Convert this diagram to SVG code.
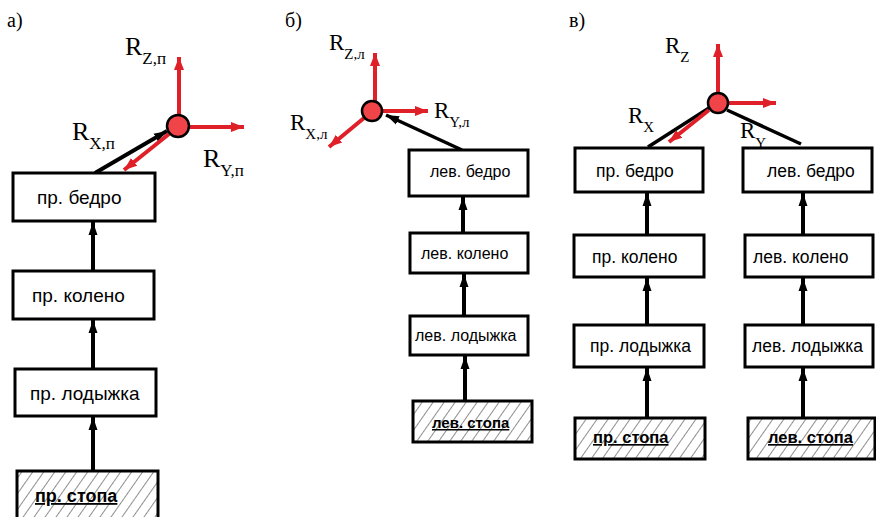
<svg xmlns="http://www.w3.org/2000/svg" width="876" height="517" viewBox="0 0 876 517">
<style>
.box{fill:#fff;stroke:#000;stroke-width:3}
.foot{fill:url(#hatch);stroke:#000;stroke-width:3}
.t{font-family:"Liberation Sans",Arial,sans-serif;fill:#000}
.tb{font-family:"Liberation Sans",Arial,sans-serif;font-weight:bold;text-decoration:underline;fill:#000}
.lab{font-family:"Liberation Serif","Times New Roman",serif;fill:#000}
.conn{stroke:#000;stroke-width:4;fill:none}
.thin{stroke:#000;stroke-width:3.5;fill:none}
.force{stroke:#e02028;stroke-width:4;fill:none}
.joint{fill:#f04448;stroke:#000;stroke-width:2.5}
</style>
<defs>
<pattern id="hatch" width="9" height="9" patternUnits="userSpaceOnUse" patternTransform="rotate(35)">
<rect width="9" height="9" fill="#fff"/>
<line x1="0" y1="0" x2="0" y2="9" stroke="#444" stroke-width="1.2"/>
</pattern>
<marker id="ah" markerUnits="userSpaceOnUse" markerWidth="14" markerHeight="12" refX="13" refY="6" orient="auto">
<path d="M0,1.5 L13,6 L0,10.5 z" fill="#000"/>
</marker>
<marker id="rh" markerUnits="userSpaceOnUse" markerWidth="14" markerHeight="12" refX="13" refY="6" orient="auto">
<path d="M0,1 L13,6 L0,11 z" fill="#e02028"/>
</marker>
</defs>

<g id="panel-labels">
<text class="lab" x="7" y="27" font-size="20">а)</text>
<text class="lab" x="285" y="27" font-size="20">б)</text>
<text class="lab" x="569" y="27" font-size="20">в)</text>
</g>

<g id="force-labels">
<text class="lab" x="125" y="55" font-size="26">R<tspan font-size="17" dy="9">Z,п</tspan></text>
<text class="lab" x="72" y="140" font-size="26">R<tspan font-size="17" dy="9">X,п</tspan></text>
<text class="lab" x="203" y="167" font-size="26">R<tspan font-size="17" dy="9">Y,п</tspan></text>
<text class="lab" x="329" y="50" font-size="23">R<tspan font-size="15" dy="9">Z,л</tspan></text>
<text class="lab" x="290" y="130" font-size="23">R<tspan font-size="15" dy="9">X,л</tspan></text>
<text class="lab" x="434" y="118" font-size="23">R<tspan font-size="15" dy="9">Y,л</tspan></text>
<text class="lab" x="665" y="53" font-size="23">R<tspan font-size="15" dy="9">Z</tspan></text>
<text class="lab" x="628" y="123" font-size="23">R<tspan font-size="15" dy="9">X</tspan></text>
<text class="lab" x="740" y="138" font-size="23">R<tspan font-size="15" dy="10">Y</tspan></text>
</g>

<g id="connectors">
<!-- panel a -->
<line class="conn" x1="93" y1="471" x2="93" y2="417" marker-end="url(#ah)"/>
<line class="conn" x1="93" y1="369" x2="93" y2="320" marker-end="url(#ah)"/>
<line class="conn" x1="93" y1="271" x2="93" y2="222" marker-end="url(#ah)"/>
<line class="conn" x1="95" y1="173" x2="167" y2="131" marker-end="url(#ah)"/>
<line class="force" x1="179" y1="116" x2="179" y2="57" marker-end="url(#rh)"/>
<line class="force" x1="189" y1="127" x2="244" y2="127" marker-end="url(#rh)"/>
<line class="force" x1="169" y1="134" x2="124" y2="170" marker-end="url(#rh)"/>
<!-- panel b -->
<line class="conn" x1="465" y1="401" x2="465" y2="356" marker-end="url(#ah)"/>
<line class="conn" x1="464" y1="316" x2="464" y2="274" marker-end="url(#ah)"/>
<line class="conn" x1="463" y1="233" x2="463" y2="197" marker-end="url(#ah)"/>
<line class="thin" x1="462" y1="150" x2="386" y2="115" marker-end="url(#ah)"/>
<line class="force" x1="375" y1="101" x2="375" y2="53" marker-end="url(#rh)"/>
<line class="force" x1="382" y1="111" x2="428" y2="111" marker-end="url(#rh)"/>
<line class="force" x1="364" y1="118" x2="329" y2="147" marker-end="url(#rh)"/>
<!-- panel c -->
<line class="conn" x1="647" y1="418" x2="647" y2="368" marker-end="url(#ah)"/>
<line class="conn" x1="647" y1="325" x2="647" y2="278" marker-end="url(#ah)"/>
<line class="conn" x1="647" y1="235" x2="647" y2="193" marker-end="url(#ah)"/>
<line class="conn" x1="803" y1="418" x2="803" y2="368" marker-end="url(#ah)"/>
<line class="conn" x1="803" y1="325" x2="803" y2="278" marker-end="url(#ah)"/>
<line class="conn" x1="803" y1="235" x2="803" y2="193" marker-end="url(#ah)"/>
<line class="thin" x1="648" y1="147" x2="709" y2="108"/>
<line class="thin" x1="801" y1="144" x2="727" y2="110"/>
<line class="force" x1="718" y1="93" x2="718" y2="44" marker-end="url(#rh)"/>
<line class="force" x1="728" y1="103" x2="776" y2="103" marker-end="url(#rh)"/>
<line class="force" x1="709" y1="110" x2="669" y2="142" marker-end="url(#rh)"/>
</g>

<g id="joint-a"><circle class="joint" cx="178" cy="126" r="11"/></g>
<g id="joint-b"><circle class="joint" cx="372" cy="111" r="10"/></g>
<g id="joint-c"><circle class="joint" cx="718" cy="103" r="10"/></g>

<g id="a-bedro"><rect class="box" x="13" y="173" width="142" height="48"/><text class="t" x="37" y="204" font-size="19">пр. бедро</text></g>
<g id="a-koleno"><rect class="box" x="13" y="271" width="141" height="48"/><text class="t" x="32" y="302" font-size="19">пр. колено</text></g>
<g id="a-lodyzhka"><rect class="box" x="15" y="369" width="141" height="47"/><text class="t" x="30" y="400" font-size="19">пр. лодыжка</text></g>
<g id="a-stopa"><rect class="foot" x="17" y="471" width="141" height="52"/><text class="tb" x="35" y="502" font-size="18">пр. стопа</text></g>

<g id="b-bedro"><rect class="box" x="409" y="150" width="119" height="46"/><text class="t" x="430" y="177" font-size="16">лев. бедро</text></g>
<g id="b-koleno"><rect class="box" x="410" y="233" width="118" height="40"/><text class="t" x="421" y="259" font-size="16">лев. колено</text></g>
<g id="b-lodyzhka"><rect class="box" x="410" y="316" width="118" height="39"/><text class="t" x="415" y="341" font-size="16">лев. лодыжка</text></g>
<g id="b-stopa"><rect class="foot" x="413" y="401" width="119" height="41"/><text class="tb" x="432" y="428" font-size="15">лев. стопа</text></g>

<g id="c-pr-bedro"><rect class="box" x="575" y="148" width="128" height="44"/><text class="t" x="596" y="177" font-size="17.5">пр. бедро</text></g>
<g id="c-lev-bedro"><rect class="box" x="743" y="148" width="129" height="44"/><text class="t" x="767" y="177" font-size="17.5">лев. бедро</text></g>
<g id="c-pr-koleno"><rect class="box" x="574" y="235" width="130" height="42"/><text class="t" x="592" y="263" font-size="17.5">пр. колено</text></g>
<g id="c-lev-koleno"><rect class="box" x="745" y="235" width="128" height="42"/><text class="t" x="753" y="263" font-size="17.5">лев. колено</text></g>
<g id="c-pr-lodyzhka"><rect class="box" x="574" y="325" width="130" height="42"/><text class="t" x="590" y="352" font-size="17.5">пр. лодыжка</text></g>
<g id="c-lev-lodyzhka"><rect class="box" x="745" y="325" width="128" height="42"/><text class="t" x="752" y="352" font-size="17.5">лев. лодыжка</text></g>
<g id="c-pr-stopa"><rect class="foot" x="575" y="418" width="130" height="41"/><text class="tb" x="593" y="443" font-size="16.5">пр. стопа</text></g>
<g id="c-lev-stopa"><rect class="foot" x="748" y="418" width="127" height="41"/><text class="tb" x="768" y="443" font-size="16.5">лев. стопа</text></g>
</svg>
